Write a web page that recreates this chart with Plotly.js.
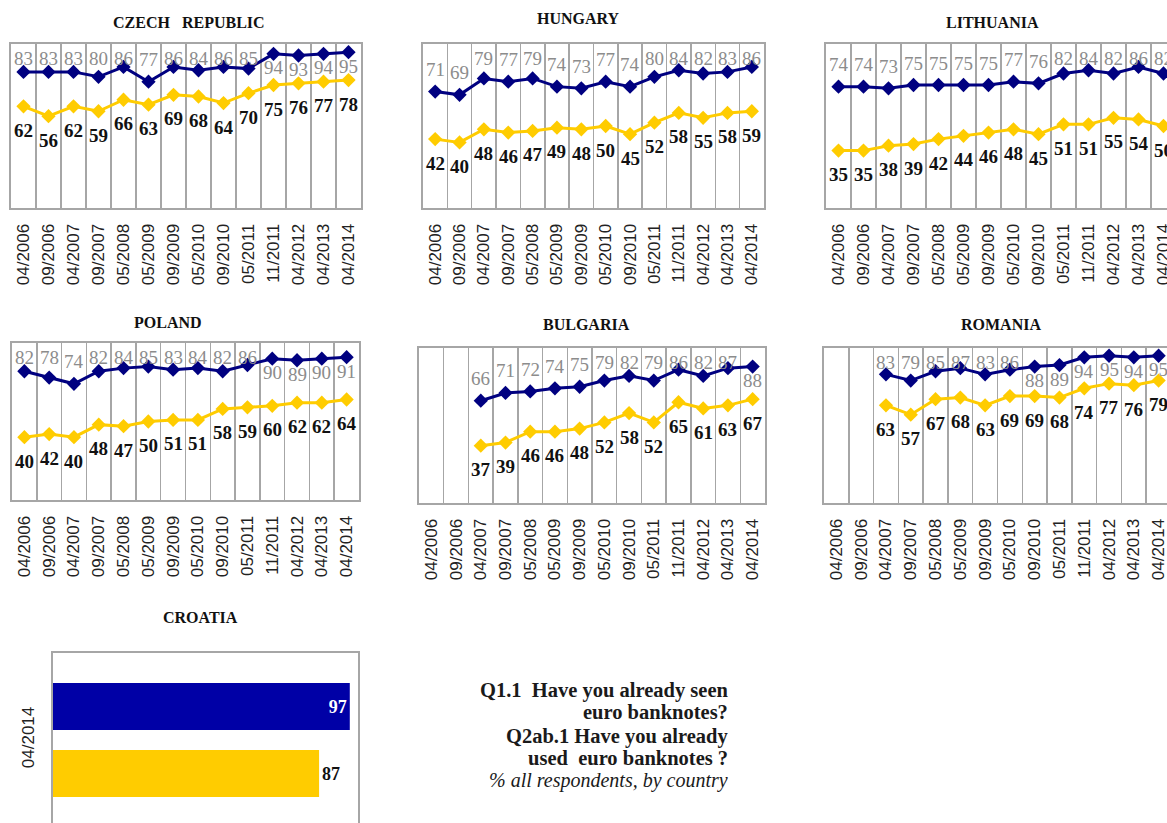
<!DOCTYPE html>
<html><head><meta charset="utf-8">
<script src="https://cdn.plot.ly/plotly-3.0.1.min.js"></script>
<style>html,body{margin:0;padding:0;overflow:hidden;background:#fff}#chart{width:1180px;height:823px}</style>
</head><body><div id="chart"></div>
<script>
// ---- data ----
const waves = ['04/2006','09/2006','04/2007','09/2007','05/2008','05/2009','09/2009','05/2010','09/2010','05/2011','11/2011','04/2012','04/2013','04/2014'];
const seenName = 'Q1.1 Have you already seen euro banknotes?';
const usedName = 'Q2ab.1 Have you already used euro banknotes?';

const czechSeen = [83,83,83,80,86,77,86,84,86,85,94,93,94,95];
const czechUsed = [62,56,62,59,66,63,69,68,64,70,75,76,77,78];
const hungarySeen = [71,69,79,77,79,74,73,77,74,80,84,82,83,86];
const hungaryUsed = [42,40,48,46,47,49,48,50,45,52,58,55,58,59];
const lithuaniaSeen = [74,74,73,75,75,75,75,77,76,82,84,82,86,82];
const lithuaniaUsed = [35,35,38,39,42,44,46,48,45,51,51,55,54,50];
const polandSeen = [82,78,74,82,84,85,83,84,82,86,90,89,90,91];
const polandUsed = [40,42,40,48,47,50,51,51,58,59,60,62,62,64];
const bulgariaSeen = [null,null,66,71,72,74,75,79,82,79,86,82,87,88];
const bulgariaUsed = [null,null,37,39,46,46,48,52,58,52,65,61,63,67];
const romaniaSeen = [null,null,83,79,85,87,83,86,88,89,94,95,94,95];
const romaniaUsed = [null,null,63,57,67,68,63,69,69,68,74,77,76,79];

const croatiaWave = ['04/2014'];
const croatiaSeen = [97];
const croatiaUsed = [87];

// ---- layout ----
const W = 1180, H = 823;
const NAVY = '#000080', YEL = '#FFCC00', GRID = '#A6A6A6';
const SERIF = 'Liberation Serif, Times New Roman, serif';
const SANS = 'Liberation Sans, Arial, sans-serif';

const panels = [
  {title:'CZECH\u00A0\u00A0\u00A0REPUBLIC', seen:czechSeen, used:czechUsed, box:[11,361,44,208], t:[189,22]},
  {title:'HUNGARY', seen:hungarySeen, used:hungaryUsed, box:[423,764,44,208], t:[578,19]},
  {title:'LITHUANIA', seen:lithuaniaSeen, used:lithuaniaUsed, box:[826,1176,44,208], t:[992,22]},
  {title:'POLAND', seen:polandSeen, used:polandUsed, box:[12,359,343,500], t:[168,322]},
  {title:'BULGARIA', seen:bulgariaSeen, used:bulgariaUsed, box:[419,765,348,503], t:[586,324]},
  {title:'ROMANIA', seen:romaniaSeen, used:romaniaUsed, box:[824,1171,348,503], t:[1001,324]}
];

const data = [];
const layout = {
  width: W, height: H, margin:{l:0,r:0,t:0,b:0},
  paper_bgcolor:'#fff', plot_bgcolor:'#fff', showlegend:false,
  bargap:0.2386, bargroupgap:0.2985,
  annotations:[], shapes:[]
};

panels.forEach((p,i)=>{
  const n = i+1, xa = 'x'+(n>1?n:''), ya = 'y'+(n>1?n:'');
  const [x0,x1,y0,y1] = p.box;
  layout['xaxis'+(n>1?n:'')] = {
    domain:[x0/W, x1/W], anchor:ya, type:'category', categoryarray:waves, categoryorder:'array',
    range:[-0.5, waves.length-0.5], tickson:'boundaries', showgrid:true, gridcolor:GRID, gridwidth:1.5,
    showline:true, mirror:true, linecolor:GRID, linewidth:2, ticks:'', tickangle:-90,
    ticklabelstandoff:7, tickfont:{family:SANS, size:17, color:'#222'}, zeroline:false, fixedrange:true
  };
  layout['yaxis'+(n>1?n:'')] = {
    domain:[1-y1/H, 1-y0/H], anchor:xa, range:[0,100], showgrid:false, showticklabels:false,
    showline:true, mirror:true, linecolor:GRID, linewidth:2, ticks:'', zeroline:false, fixedrange:true
  };
  data.push({type:'scatter', mode:'lines+markers', name:usedName, x:waves, y:p.used, xaxis:xa, yaxis:ya,
    line:{color:YEL, width:3}, marker:{symbol:'diamond', size:11, color:YEL}, hoverinfo:'skip', cliponaxis:false});
  data.push({type:'scatter', mode:'lines+markers', name:seenName, x:waves, y:p.seen, xaxis:xa, yaxis:ya,
    line:{color:NAVY, width:3}, marker:{symbol:'diamond', size:11, color:NAVY}, hoverinfo:'skip', cliponaxis:false});
  const ppu = (y1-y0)/100;
  p.seen.forEach((v,j)=>{
    if (v===null) return;
    const room = (100-v)*ppu - 14;
    const ys = room < 5 ? -14 : Math.min(22, room);
    layout.annotations.push({xref:xa, yref:ya, x:waves[j], y:v, yshift:ys, text:String(v), showarrow:false,
      xanchor:'center', yanchor:'middle', font:{family:SERIF, size:19, color:'#8C8C8C'}});
  });
  p.used.forEach((v,j)=>{
    if (v===null) return;
    layout.annotations.push({xref:xa, yref:ya, x:waves[j], y:v, yshift:-24, text:'<b>'+v+'</b>', showarrow:false,
      xanchor:'center', yanchor:'middle', font:{family:SERIF, size:19, color:'#111'}});
  });
  layout.annotations.push({xref:'paper', yref:'paper', x:p.t[0]/W, y:1-p.t[1]/H, text:'<b>'+p.title+'</b>',
    showarrow:false, xanchor:'center', yanchor:'middle', font:{family:SERIF, size:16, color:'#111'}});
});

// Croatia bar panel
layout.xaxis7 = {domain:[52/W, 359/W], anchor:'y7', range:[0,100], showgrid:false, showticklabels:false,
  showline:false, zeroline:false, ticks:'', fixedrange:true};
layout.yaxis7 = {domain:[0, 1-652/H], anchor:'x7', type:'category', range:[-0.4716, 0.5], showgrid:false,
  showline:false, zeroline:false, ticks:'', tickangle:-90, ticklabelstandoff:14,
  tickfont:{family:SANS, size:17, color:'#222'}, fixedrange:true};
data.push({type:'bar', orientation:'h', name:usedName, x:croatiaUsed, y:croatiaWave, xaxis:'x7', yaxis:'y7',
  marker:{color:YEL}, text:croatiaUsed.map(String), textposition:'outside', cliponaxis:false,
  textfont:{family:SERIF, size:18, color:'#111', weight:'bold'}, hoverinfo:'skip'});
data.push({type:'bar', orientation:'h', name:seenName, x:croatiaSeen, y:croatiaWave, xaxis:'x7', yaxis:'y7',
  marker:{color:'#0000A6'}, text:croatiaSeen.map(String), textposition:'inside', insidetextanchor:'end',
  textfont:{family:SERIF, size:18, color:'#fff', weight:'bold'}, hoverinfo:'skip'});
layout.shapes.push({type:'rect', xref:'x7 domain', yref:'y7 domain', x0:0, x1:1, y0:-0.2, y1:1,
  line:{color:GRID, width:2}, layer:'above'});
layout.annotations.push({xref:'paper', yref:'paper', x:200/W, y:1-617/H, text:'<b>CROATIA</b>', showarrow:false,
  xanchor:'center', yanchor:'middle', font:{family:SERIF, size:16, color:'#111'}});

// Question text block
const qLines = [
  ['<b>Q1.1\u00A0 Have you already seen</b>', 690, false],
  ['<b>euro banknotes?</b>', 712, false],
  ['<b>Q2ab.1 Have you already</b>', 736, false],
  ['<b>used\u00A0 euro banknotes ?</b>', 758, false],
  ['<i>% all respondents, by country</i>', 780, true]
];
qLines.forEach(([t,y,it])=>{
  layout.annotations.push({xref:'paper', yref:'paper', x:730/W, y:1-y/H, xanchor:'right', yanchor:'middle',
    text:t, showarrow:false, font:{family:SERIF, size: it?20:20.5, color:'#1a1a1a'}});
});

Plotly.newPlot('chart', data, layout, {staticPlot:true, displayModeBar:false});
</script>
</body></html>
